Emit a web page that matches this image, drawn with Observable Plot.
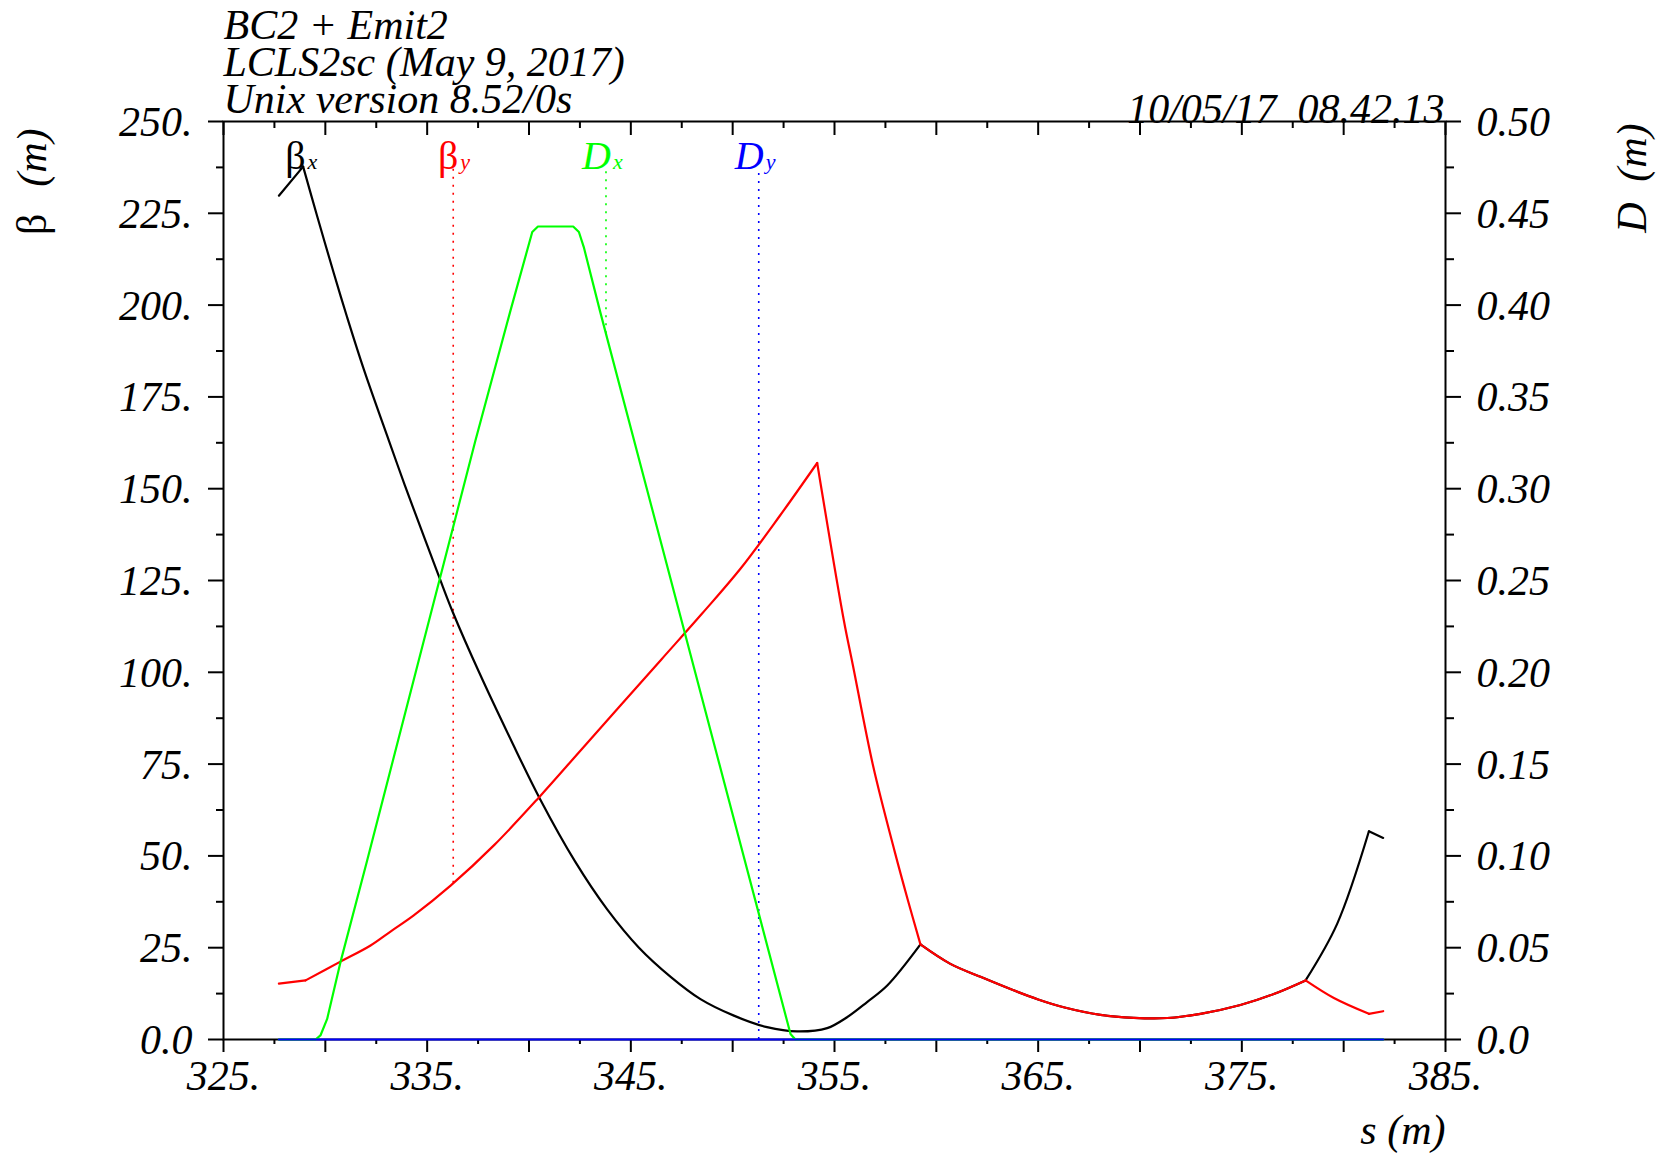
<!DOCTYPE html>
<html><head><meta charset="utf-8">
<script src="https://cdn.jsdelivr.net/npm/d3@7"></script>
<script src="https://cdn.jsdelivr.net/npm/@observablehq/plot@0.6"></script>
<style>html,body{margin:0;padding:0;background:#fff;overflow:hidden}</style>
</head><body><div id="chart"></div>
<script>
// ---------- texts ----------
const titleLines = ["BC2 + Emit2", "LCLS2sc (May 9, 2017)", "Unix version 8.52/0s"];
const dateText = "10/05/17\u00a0\u00a008.42.13";
const xAxisLabel = "s (m)";

// ---------- axes ----------
const xDomain = [325, 385];
const yDomain = [0, 250];      // beta (m), left
const dDomain = [0, 0.5];      // D (m), right
const xMajor = [325, 330, 335, 340, 345, 350, 355, 360, 365, 370, 375, 380, 385];
const xMinor = [327.5, 332.5, 337.5, 342.5, 347.5, 352.5, 357.5, 362.5, 367.5, 372.5, 377.5, 382.5];
const xLabelTicks = [325, 335, 345, 355, 365, 375, 385];
const xLabels = ["325.", "335.", "345.", "355.", "365.", "375.", "385."];
const yMajor = [0, 25, 50, 75, 100, 125, 150, 175, 200, 225, 250];
const yMinor = [12.5, 37.5, 62.5, 87.5, 112.5, 137.5, 162.5, 187.5, 212.5, 237.5];
const yLeftLabels = ["0.0", "25.", "50.", "75.", "100.", "125.", "150.", "175.", "200.", "225.", "250."];
const yRightLabels = ["0.0", "0.05", "0.10", "0.15", "0.20", "0.25", "0.30", "0.35", "0.40", "0.45", "0.50"];

// ---------- series ----------
const sBetaX = [327.72, 328.91, 329.6, 330.42, 331.07, 331.89, 333.12, 333.9, 334.94, 335.62, 336.25, 337.55, 339.12, 340.54, 342.26, 343.83, 345.4, 346.97, 348.42, 350.06, 351.69, 353.17, 354.64, 355.6, 356.6, 357.59, 359.22, 360.69, 362.2, 363.7, 365.0, 366.3, 368.06, 369.7, 371.34, 372.97, 374.93, 376.57, 378.13, 379.68, 381.24, 381.94];
const betaX  = [229.8, 237.7, 224.2, 208.6, 196.7, 182.5, 163.1, 151, 135.5, 125.5, 116.5, 100, 81.5, 65.5, 48.5, 35.5, 25, 17.0, 11.0, 6.5, 3.36, 2.2, 3.1, 6.0, 10.2, 14.7, 25.9, 20.6, 17.0, 13.6, 10.9, 8.7, 6.7, 5.9, 5.85, 7.0, 9.4, 12.4, 16.1, 31.5, 56.7, 54.9];
const cornersBetaX = [328.91, 359.22, 378.13, 381.24];

const sBetaY = [327.72, 329.03, 330.74, 332.22, 333.2, 334.34, 336.15, 338.3, 340.5, 342.5, 344.5, 346.5, 348.5, 350.38, 352.3, 354.15, 355.46, 355.9, 356.9, 357.95, 358.6, 359.22, 360.69, 362.2, 363.7, 365.0, 366.3, 368.06, 369.7, 371.34, 372.97, 374.93, 376.57, 378.13, 379.52, 381.24, 381.94];
const betaY  = [15.2, 16.1, 21.2, 25.6, 29.4, 33.8, 41.9, 53, 66, 78.5, 91, 103.5, 116, 128.2, 142.5, 157, 114.1, 102, 74.4, 51.3, 38, 25.9, 20.6, 17.0, 13.6, 10.9, 8.7, 6.7, 5.9, 5.85, 7.0, 9.4, 12.4, 16.1, 11.3, 7.0, 7.7];
const cornersBetaY = [329.03, 354.15, 359.22, 378.13, 381.24];

const sDx = [327.72, 329.52, 329.76, 330.09, 330.74, 332.05, 337.37, 339.09, 340.16, 340.44, 342.17, 342.45, 342.69, 343.48, 352.84, 353.08, 381.94];
const dx  = [0, 0, 0.0022, 0.0112, 0.042, 0.0974, 0.3262, 0.397, 0.4398, 0.4428, 0.4428, 0.4398, 0.4316, 0.397, 0.003, 0, 0];

const sDy = [327.72, 381.94];
const dy  = [0, 0];

// ---------- curve labels ----------
const labelNames = ["βx", "βy", "Dx", "Dy"];
const labelMain = ["β", "β", "D", "D"];
const labelSub = ["x", "y", "x", "y"];
const labelS = [328.78, 336.28, 343.78, 351.28];
const labelColors = ["#000000", "#ff0000", "#00ff00", "#0000ff"];

// ---------- build ----------
const dToBeta = yDomain[1] / dDomain[1];
const zip = (s, v, k) => s.map((x, i) => ({s: x, v: v[i] * k}));
function segments(data, corners) {
  const out = [];
  for (const d of data) {
    const k = corners.filter(c => c < d.s).length;
    out.push({...d, seg: k});
    if (corners.includes(d.s)) out.push({...d, seg: k + 1});
  }
  return out;
}
const series = [
  {data: zip(sBetaX, betaX, 1), corners: cornersBetaX, color: labelColors[0], curve: "catmull-rom"},
  {data: zip(sBetaY, betaY, 1), corners: cornersBetaY, color: labelColors[1], curve: "catmull-rom"},
  {data: zip(sDx, dx, dToBeta), corners: [], color: labelColors[2], curve: "linear"},
  {data: zip(sDy, dy, dToBeta), corners: [], color: labelColors[3], curve: "linear"}
];
function interp(data, s) {
  const i = d3.bisector(d => d.s).right(data, s);
  if (i <= 0) return data[0].v;
  if (i >= data.length) return data[data.length - 1].v;
  const a = data[i - 1], b = data[i];
  return a.v + (b.v - a.v) * (s - a.s) / (b.s - a.s);
}
const labels = labelNames.map((n, i) => ({
  s: labelS[i], main: labelMain[i], sub: labelSub[i], color: labelColors[i],
  v: interp(series[i].data, labelS[i]), italic: labelMain[i] !== "β"
}));

const xLabelMap = new Map(xLabelTicks.map((t, i) => [t, xLabels[i]]));
const yLeftMap = new Map(yMajor.map((t, i) => [t, yLeftLabels[i]]));
const yRightMap = new Map(yMajor.map((t, i) => [t, yRightLabels[i]]));
const blank = () => "";
const FS = 42;
const LABEL_DY = 47;

const marks = [
  Plot.frame({stroke: "black", strokeWidth: 2}),
  Plot.axisX(xMajor, {anchor: "bottom", tickSize: 13, strokeWidth: 2, tickFormat: blank, label: null}),
  Plot.axisX(xMinor, {anchor: "bottom", tickSize: 5, strokeWidth: 2, tickFormat: blank, label: null}),
  Plot.axisX(xMajor, {anchor: "top", tickSize: 13, dy: 13, strokeWidth: 2, tickFormat: blank, label: null}),
  Plot.axisX(xMinor, {anchor: "top", tickSize: 6, dy: 6, strokeWidth: 2, tickFormat: blank, label: null}),
  Plot.axisX(xLabelTicks, {anchor: "bottom", tickSize: 0, tickPadding: 21, tickFormat: d => xLabelMap.get(d), fontSize: FS, fontStyle: "italic", label: null}),
  Plot.axisY(yMajor, {anchor: "left", tickSize: 15, strokeWidth: 2, tickFormat: blank, label: null}),
  Plot.axisY(yMinor, {anchor: "left", tickSize: 7, strokeWidth: 2, tickFormat: blank, label: null}),
  Plot.axisY(yMajor, {anchor: "right", tickSize: 15, strokeWidth: 2, tickFormat: blank, label: null}),
  Plot.axisY(yMinor, {anchor: "right", tickSize: 8, strokeWidth: 2, tickFormat: blank, label: null}),
  Plot.axisY(yMajor, {anchor: "left", tickSize: 0, tickPadding: 31, dy: 1, tickFormat: d => yLeftMap.get(d), fontSize: FS, fontStyle: "italic", label: null}),
  Plot.axisY(yMajor, {anchor: "right", tickSize: 0, tickPadding: 31, dy: 1, tickFormat: d => yRightMap.get(d), fontSize: FS, fontStyle: "italic", label: null}),
  // titles
  Plot.text([titleLines.join("\n")], {frameAnchor: "top-left", textAnchor: "start", lineAnchor: "bottom", lineHeight: 0.88, dy: -9, fontSize: FS, fontStyle: "italic"}),
  Plot.text([dateText], {frameAnchor: "top-right", textAnchor: "end", lineAnchor: "bottom", dx: -1, dy: 1, fontSize: FS, fontStyle: "italic"}),
  Plot.text([xAxisLabel], {frameAnchor: "bottom-right", textAnchor: "end", lineAnchor: "bottom", dy: 104, fontSize: FS, fontStyle: "italic"}),
  // left axis label  β (m)
  Plot.text(["β"], {frameAnchor: "top-left", rotate: -90, textAnchor: "end", lineAnchor: "bottom", dx: -178, dy: 92, fontSize: FS}),
  Plot.text(["(m)"], {frameAnchor: "top-left", rotate: -90, textAnchor: "end", lineAnchor: "bottom", dx: -178, dy: 7, fontSize: FS, fontStyle: "italic"}),
  // right axis label  D (m)
  Plot.text(["D"], {frameAnchor: "top-right", rotate: -90, textAnchor: "end", lineAnchor: "bottom", dx: 200, dy: 81, fontSize: FS, fontStyle: "italic"}),
  Plot.text(["(m)"], {frameAnchor: "top-right", rotate: -90, textAnchor: "end", lineAnchor: "bottom", dx: 200, dy: 2, fontSize: FS, fontStyle: "italic"})
];

// dotted label leaders
for (const l of labels) {
  marks.push(Plot.ruleX([l], {x: "s", y1: "v", y2: () => yDomain[1], insetBottom: -LABEL_DY, stroke: l.color, strokeWidth: 1.6, strokeDasharray: "2,6"}));
}
// curves
for (const sr of series) {
  marks.push(Plot.line(segments(sr.data, sr.corners), {x: "s", y: "v", z: "seg", curve: sr.curve, stroke: sr.color, strokeWidth: 2.2}));
}
// curve labels
for (const l of labels) {
  marks.push(Plot.text([l], {x: "s", text: "main", frameAnchor: "top", textAnchor: "end", lineAnchor: "bottom", dx: 5, dy: LABEL_DY, fill: l.color, fontSize: 40, fontStyle: l.italic ? "italic" : "normal"}));
  marks.push(Plot.text([l], {x: "s", text: "sub", frameAnchor: "top", textAnchor: "start", lineAnchor: "bottom", dx: 7, dy: LABEL_DY, fill: l.color, fontSize: 22, fontStyle: "italic"}));
}

const chart = Plot.plot({
  width: 1669, height: 1159,
  marginLeft: 223, marginRight: 224, marginTop: 121, marginBottom: 120,
  x: {domain: xDomain},
  y: {domain: yDomain},
  style: {fontFamily: "'Liberation Serif', 'Times New Roman', serif", background: "#fff", color: "#000"},
  marks
});
document.getElementById("chart").appendChild(chart);
</script>
</body></html>
